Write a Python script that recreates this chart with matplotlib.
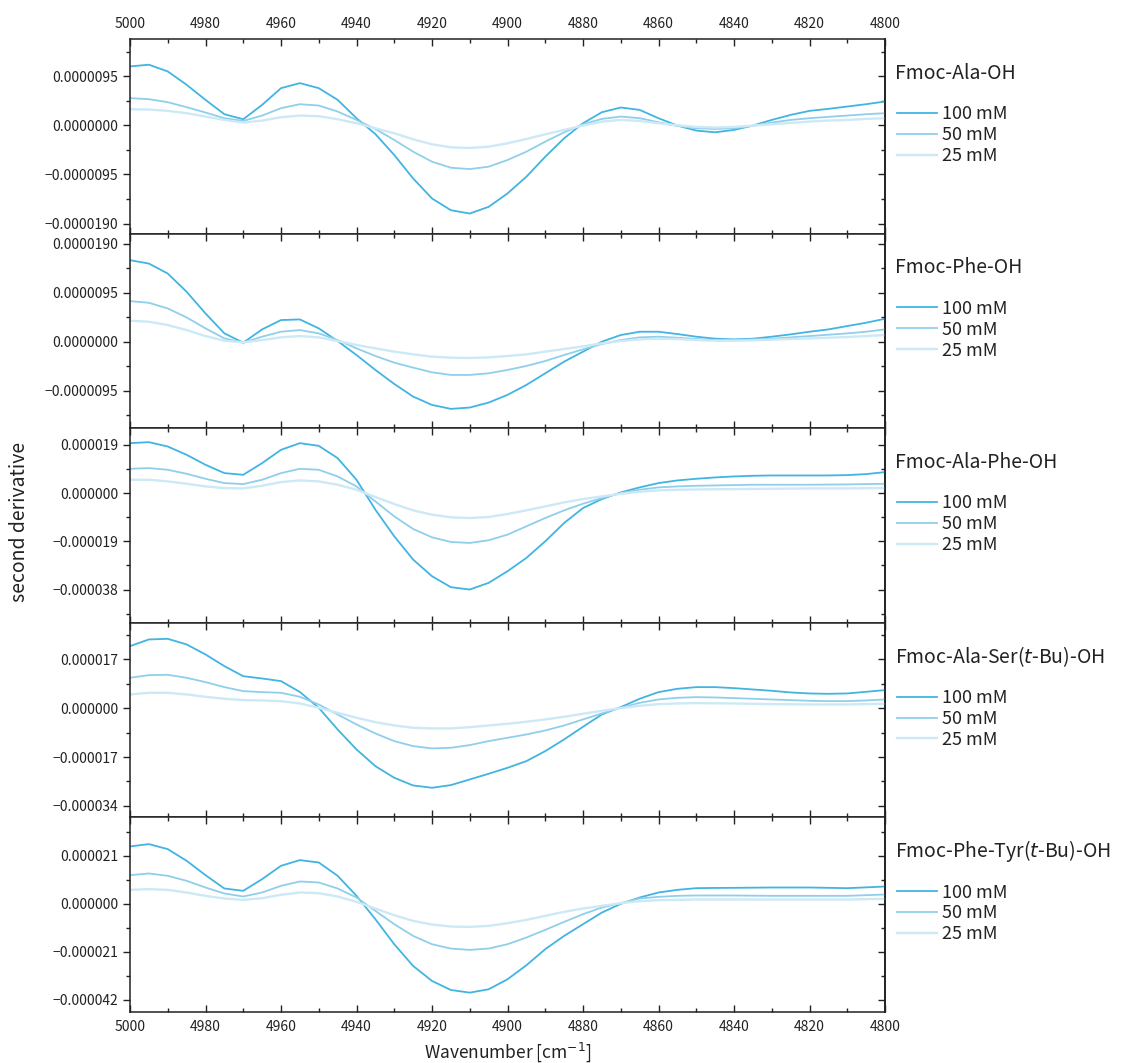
import matplotlib
matplotlib.use("Agg")
import matplotlib.pyplot as plt
from matplotlib.ticker import MultipleLocator, FuncFormatter

plt.rcParams['font.family'] = ['Noto Sans CJK JP', 'DejaVu Sans']

# ---------------- data (second derivative, units of 1e-6) ----------------
wavenumber = [5000, 4995, 4990, 4985, 4980, 4975, 4970, 4965, 4960, 4955,
              4950, 4945, 4940, 4935, 4930, 4925, 4920, 4915, 4910, 4905,
              4900, 4895, 4890, 4885, 4880, 4875, 4870, 4865, 4860, 4855,
              4850, 4845, 4840, 4835, 4830, 4825, 4820, 4815, 4810, 4805, 4800]

concentrations = ["100 mM", "50 mM", "25 mM"]
compounds = ["Fmoc-Ala-OH", "Fmoc-Phe-OH", "Fmoc-Ala-Phe-OH",
             r"Fmoc-Ala-Ser($\mathit{t}$-Bu)-OH", r"Fmoc-Phe-Tyr($\mathit{t}$-Bu)-OH"]

ala_100 = [11.37, 11.70, 10.40, 7.82, 4.91, 2.13, 1.16, 3.94, 7.17, 8.14,
           7.17, 4.91, 1.36, -1.70, -5.75, -10.28, -14.15, -16.42, -17.06, -15.77,
           -13.18, -9.95, -6.08, -2.52, 0.39, 2.52, 3.43, 2.97, 1.36, -0.06,
           -1.03, -1.36, -0.90, -0.06, 1.03, 2.00, 2.78, 3.17, 3.62, 4.07, 4.59]
ala_50 = [5.24, 5.04, 4.46, 3.49, 2.46, 1.36, 0.84, 1.87, 3.30, 4.07,
          3.81, 2.65, 1.03, -0.71, -2.84, -5.11, -7.04, -8.21, -8.47, -8.01,
          -6.72, -5.11, -3.17, -1.36, 0.19, 1.23, 1.68, 1.36, 0.58, -0.13,
          -0.58, -0.71, -0.58, -0.13, 0.52, 1.03, 1.36, 1.62, 1.87, 2.13, 2.33]
ala_25 = [3.10, 3.04, 2.78, 2.33, 1.68, 1.03, 0.52, 0.90, 1.55, 1.87,
          1.75, 1.16, 0.39, -0.58, -1.55, -2.71, -3.68, -4.27, -4.39, -4.14,
          -3.49, -2.65, -1.75, -0.90, -0.06, 0.71, 1.03, 0.84, 0.39, 0.00,
          -0.32, -0.45, -0.32, -0.06, 0.19, 0.45, 0.71, 0.90, 1.03, 1.23, 1.36]

phe_100 = [15.78, 15.13, 13.20, 9.66, 5.47, 1.61, -0.19, 2.38, 4.19, 4.31,
           2.58, 0.13, -2.58, -5.47, -8.18, -10.63, -12.24, -13.01, -12.75, -11.79,
           -10.30, -8.37, -6.12, -3.86, -1.93, 0.00, 1.29, 1.93, 1.93, 1.48,
           0.97, 0.58, 0.45, 0.58, 0.97, 1.42, 1.93, 2.38, 3.03, 3.67, 4.44]
phe_50 = [7.86, 7.53, 6.44, 4.70, 2.58, 0.64, -0.19, 0.97, 1.93, 2.25,
          1.61, 0.32, -1.29, -2.77, -4.06, -5.02, -5.93, -6.44, -6.44, -6.12,
          -5.47, -4.70, -3.74, -2.58, -1.48, -0.45, 0.32, 0.84, 0.97, 0.77,
          0.52, 0.32, 0.32, 0.45, 0.58, 0.84, 1.09, 1.35, 1.61, 1.93, 2.38]
phe_25 = [4.06, 3.86, 3.22, 2.25, 1.09, 0.19, -0.13, 0.32, 0.84, 1.09,
          0.84, 0.13, -0.64, -1.29, -1.93, -2.45, -2.90, -3.09, -3.16, -3.03,
          -2.77, -2.45, -1.93, -1.42, -0.90, -0.32, 0.13, 0.45, 0.58, 0.52,
          0.32, 0.19, 0.19, 0.26, 0.39, 0.52, 0.64, 0.77, 0.90, 1.09, 1.29]

alaphe_100 = [19.66, 20.05, 18.34, 15.07, 11.14, 7.86, 7.20, 11.79, 17.03, 19.66,
              18.60, 13.76, 5.24, -6.55, -17.03, -26.20, -32.75, -37.07, -37.99, -35.37,
              -30.79, -25.55, -19.00, -11.79, -5.90, -2.36, 0.26, 2.23, 3.93, 4.98,
              5.63, 6.16, 6.55, 6.81, 6.94, 6.94, 6.94, 6.94, 7.07, 7.47, 8.25]
alaphe_50 = [9.56, 9.83, 9.17, 7.60, 5.63, 3.93, 3.54, 5.24, 7.86, 9.56,
             9.17, 6.55, 2.62, -3.28, -9.17, -14.15, -17.43, -19.26, -19.65, -18.60,
             -16.38, -13.10, -9.83, -6.81, -4.19, -1.97, 0.00, 1.31, 2.23, 2.62,
             2.88, 3.01, 3.14, 3.28, 3.28, 3.28, 3.28, 3.35, 3.41, 3.54, 3.67]
alaphe_25 = [5.24, 5.24, 4.59, 3.67, 2.62, 1.97, 1.83, 2.88, 4.32, 4.98,
             4.59, 3.28, 1.31, -1.57, -4.32, -6.81, -8.52, -9.56, -9.83, -9.43,
             -8.25, -6.81, -5.24, -3.67, -2.36, -1.31, -0.26, 0.52, 1.05, 1.31,
             1.44, 1.50, 1.57, 1.63, 1.70, 1.76, 1.83, 1.83, 1.83, 1.90, 1.97]

alaser_100 = [21.56, 23.88, 24.10, 22.14, 18.66, 14.60, 11.10, 10.31, 9.39, 5.60,
              0.12, -7.42, -14.37, -20.17, -24.22, -26.89, -27.70, -26.77, -24.80, -22.83,
              -20.75, -18.43, -14.95, -10.89, -6.49, -2.20, 0.35, 3.25, 5.56, 6.72,
              7.30, 7.30, 6.95, 6.49, 6.03, 5.45, 5.10, 4.98, 5.10, 5.68, 6.26]
alaser_50 = [10.55, 11.47, 11.59, 10.55, 9.04, 7.30, 5.91, 5.56, 5.33, 3.94,
             1.27, -2.20, -5.68, -8.81, -11.47, -13.21, -14.02, -13.79, -12.86, -11.47,
             -10.31, -9.16, -7.77, -6.03, -3.94, -1.85, 0.12, 1.85, 3.01, 3.59,
             3.82, 3.71, 3.48, 3.25, 3.01, 2.78, 2.55, 2.43, 2.43, 2.67, 3.01]
alaser_25 = [4.75, 5.33, 5.33, 4.75, 3.94, 3.25, 2.78, 2.67, 2.43, 1.62,
             0.12, -1.62, -3.36, -4.87, -6.03, -6.84, -7.07, -7.07, -6.61, -6.03,
             -5.45, -4.75, -3.94, -3.01, -1.97, -0.93, 0.00, 0.81, 1.39, 1.62,
             1.74, 1.68, 1.62, 1.50, 1.39, 1.33, 1.27, 1.27, 1.27, 1.39, 1.51]

phetyr_100 = [25.08, 26.10, 23.91, 18.81, 12.54, 6.71, 5.69, 10.79, 16.63, 19.10,
              18.08, 12.25, 3.50, -6.71, -17.64, -27.12, -33.69, -37.63, -38.79, -37.33,
              -32.96, -26.83, -19.80, -14.00, -8.90, -3.80, 0.00, 2.77, 4.96, 6.12,
              6.85, 6.95, 7.00, 7.07, 7.14, 7.14, 7.14, 7.00, 6.85, 7.20, 7.58]
phetyr_50 = [12.54, 13.27, 12.25, 10.06, 7.14, 4.52, 3.21, 4.96, 7.87, 9.77,
             9.33, 6.71, 2.77, -3.06, -8.89, -14.00, -17.64, -19.54, -20.12, -19.54,
             -17.64, -14.73, -11.37, -7.87, -4.52, -1.60, 0.30, 2.33, 3.06, 3.50,
             3.65, 3.65, 3.65, 3.58, 3.50, 3.50, 3.50, 3.50, 3.50, 3.79, 4.08]
phetyr_25 = [6.12, 6.42, 6.12, 4.96, 3.50, 2.33, 1.75, 2.48, 3.94, 4.96,
             4.67, 3.21, 0.87, -2.04, -4.96, -7.44, -9.04, -9.92, -10.06, -9.62,
             -8.46, -7.00, -5.25, -3.50, -2.04, -0.87, 0.29, 1.17, 1.60, 1.75,
             1.90, 1.90, 1.90, 1.90, 1.90, 1.90, 1.90, 1.90, 1.90, 2.04, 2.19]

series = [(ala_100, ala_50, ala_25),
          (phe_100, phe_50, phe_25),
          (alaphe_100, alaphe_50, alaphe_25),
          (alaser_100, alaser_50, alaser_25),
          (phetyr_100, phetyr_50, phetyr_25)]

# y-axis tick steps and limits (units of 1e-6)
tick_steps = [9.5, 9.5, 19.0, 17.0, 21.0]
y_limits = [(-20.94, 16.67), (-16.75, 20.93), (-51.1, 25.55), (-38.0, 29.67), (-47.25, 37.77)]
decimals = [7, 7, 6, 6, 6]
SCALE = 1e-6

colors = ['#41b4e2', '#8fcfeb', '#cce9f5']
lws = [1.3, 1.3, 1.7]

# ---------------- figure ----------------
W, H = 1139, 1063
fig = plt.figure(figsize=(W / 100, H / 100), dpi=100)
left, right = 130 / W, 885 / W
top, bottom = 1 - 39 / H, 1 - 1012 / H
n = len(series)
ph = (top - bottom) / n

for i, (comp, ser) in enumerate(zip(compounds, series)):
    ax = fig.add_axes([left, top - (i + 1) * ph, right - left, ph])
    for vals, c, lw, lab in zip(ser, colors, lws, concentrations):
        ax.plot(wavenumber, [v * SCALE for v in vals], color=c, lw=lw, label=lab,
                solid_joinstyle='round')
    ax.set_xlim(5000, 4800)
    lo, hi = y_limits[i]
    ax.set_ylim(lo * SCALE, hi * SCALE)
    st = tick_steps[i] * SCALE
    ax.yaxis.set_major_locator(MultipleLocator(st))
    ax.yaxis.set_minor_locator(MultipleLocator(st / 2))
    d = decimals[i]

    def fmt(v, pos, d=d):
        s = f"{v:.{d}f}"
        if float(s) == 0:
            s = f"{0:.{d}f}"
        return s.replace('-', '\u2212')
    ax.yaxis.set_major_formatter(FuncFormatter(fmt))
    ax.xaxis.set_major_locator(MultipleLocator(20))
    ax.xaxis.set_minor_locator(MultipleLocator(10))

    for sp in ax.spines.values():
        sp.set_linewidth(1.1)
        sp.set_color('#222222')
    ax.tick_params(axis='y', which='both', direction='out', left=True, right=False,
                   labelsize=10, colors='#222222', width=1.0)
    ax.tick_params(axis='y', which='major', length=5)
    ax.tick_params(axis='y', which='minor', length=3)
    ax.tick_params(axis='x', which='both', direction='in', top=True, bottom=True,
                   labelbottom=(i == n - 1), labeltop=(i == 0), labelsize=10,
                   colors='#222222', width=1.0)
    ax.tick_params(axis='x', which='major', length=5, pad=6)
    ax.tick_params(axis='x', which='minor', length=3)

    # right-side inward ticks (mirror)
    sec = ax.secondary_yaxis('right')
    sec.yaxis.set_major_locator(MultipleLocator(st))
    sec.yaxis.set_minor_locator(MultipleLocator(st / 2))
    sec.tick_params(axis='y', which='both', direction='in', labelright=False, width=1.0,
                    colors='#222222')
    sec.tick_params(axis='y', which='major', length=5)
    sec.tick_params(axis='y', which='minor', length=3)
    sec.spines['right'].set_linewidth(1.1)

    ax.text(1.013, 0.825, comp, transform=ax.transAxes, fontsize=14,
            ha='left', va='center', color='#222222')
    ax.legend(loc='upper left', bbox_to_anchor=(1.016, 0.66), frameon=False,
              fontsize=13, handlelength=2.2, handletextpad=0.3, labelspacing=0.16,
              borderaxespad=0, borderpad=0, labelcolor='#222222')

fig.text(20 / W, 1 - 522 / H, "second derivative", rotation=90, fontsize=14,
         ha='center', va='center', color='#222222')
fig.text((left + right) / 2, 1 - 1052 / H, "Wavenumber [cm$^{-1}$]", fontsize=12.5,
         ha='center', va='center', color='#222222')

fig.savefig("out.png", dpi=100)
